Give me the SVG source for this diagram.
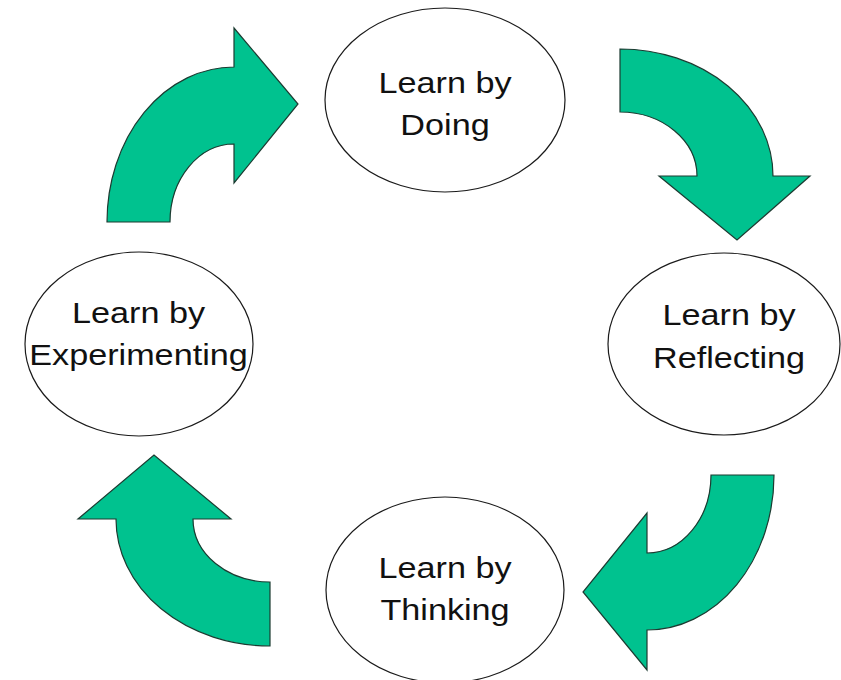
<svg xmlns="http://www.w3.org/2000/svg" width="841" height="680" viewBox="0 0 841 680">
  <style>
    .node ellipse { fill: #ffffff; stroke: #1a1a1a; stroke-width: 1.2; }
    .node text { font-family: "Liberation Sans", Arial, sans-serif; font-size: 30px; fill: #111111; text-anchor: middle; }
    .arrow { fill: #00C28F; stroke: #1c3b31; stroke-width: 1.2; stroke-linejoin: miter; }
  </style>
  <rect width="841" height="680" fill="#ffffff"/>

  <!-- curved block arrows forming the cycle -->
  <g id="connectors">
    <!-- experimenting -> doing -->
    <path id="arrow-top-left" class="arrow" d="M107,222 A127 155 0 0 1 234,67 L234,28 L298,104 L234,183 L234,144 A64 78 0 0 0 170,222 Z"/>
    <!-- doing -> reflecting -->
    <path id="arrow-top-right" class="arrow" d="M620,49 A153 127 0 0 1 773,176 L810,176 L737,240 L659,176 L697,176 A77 64 0 0 0 620,112 Z"/>
    <!-- reflecting -> thinking -->
    <path id="arrow-bottom-right" class="arrow" d="M774,475 A127 155 0 0 1 647,630 L647,670 L583,592 L647,513 L647,553 A64 78 0 0 0 711,475 Z"/>
    <!-- thinking -> experimenting -->
    <path id="arrow-bottom-left" class="arrow" d="M270,646 A154 127 0 0 1 116,519 L78,519 L154,455 L231,519 L193,519 A77 63 0 0 0 270,582 Z"/>
  </g>

  <g id="node-doing" class="node">
    <ellipse cx="445" cy="100" rx="120" ry="92"/>
    <g transform="translate(445 0) scale(1.14 1)">
      <text x="0" y="93">Learn by</text>
      <text x="0" y="135">Doing</text>
    </g>
  </g>

  <g id="node-reflecting" class="node">
    <ellipse cx="724" cy="344" rx="116" ry="91"/>
    <g transform="translate(729 0) scale(1.14 1)">
      <text x="0" y="325">Learn by</text>
      <text x="0" y="368">Reflecting</text>
    </g>
  </g>

  <g id="node-thinking" class="node">
    <ellipse cx="445" cy="590" rx="119" ry="93"/>
    <g transform="translate(445 0) scale(1.14 1)">
      <text x="0" y="578">Learn by</text>
      <text x="0" y="620">Thinking</text>
    </g>
  </g>

  <g id="node-experimenting" class="node">
    <ellipse cx="139" cy="344" rx="114" ry="92"/>
    <g transform="translate(138.5 0) scale(1.14 1)">
      <text x="0" y="323">Learn by</text>
      <text x="0" y="365">Experimenting</text>
    </g>
  </g>
</svg>
